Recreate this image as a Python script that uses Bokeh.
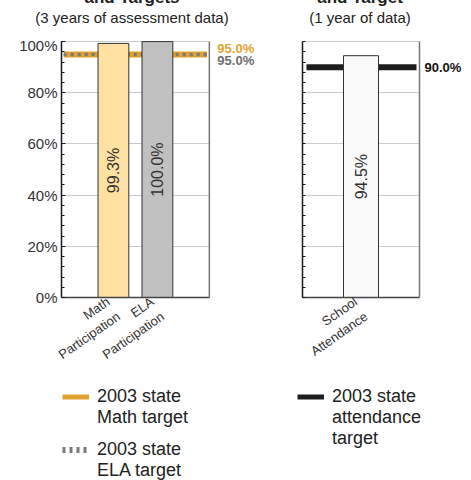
import math
import numpy as np
from bokeh.plotting import figure
from bokeh.layouts import row, column
from bokeh.models import (Range1d, Label, Legend, LegendItem, FixedTicker, PrintfTickFormatter,
                          ColumnDataSource, BoxAnnotation, Div)
from bokeh.core.properties import value
from bokeh.embed import file_html
from bokeh.resources import INLINE

FONT = "Liberation Sans"

# ---- data ----
part_categories = ["Math\nParticipation", "ELA\nParticipation"]
part_values = [99.3, 100.0]
part_colors = ["#FFE2A3", "#C0C0C0"]
math_target = 95.0
ela_target = 95.0
att_categories = ["School\nAttendance"]
att_values = [94.5]
att_colors = ["#F9F9F9"]
att_target = 90.0
y_ticks = [0, 20, 40, 60, 80, 100]
grid_ticks = [20, 40, 60, 80, 100]
left_heading = "and Targets"
right_heading = "and Target"
left_title = "(3 years of assessment data)"
right_title = "(1 year of data)"
math_legend = ["2003 state", "Math target"]
ela_legend = ["2003 state", "ELA target"]
att_legend = ["2003 state", "attendance", "target"]

ORANGE = "#E0A22E"
DASHGRAY = "#7A7A7A"
BLACK = "#1E1E1E"
Y_MAX = 102
FRAME_H = 261
TOP_H = 36
BOTTOM_H = 75
LEG_H = 480 - 2 - TOP_H - FRAME_H - BOTTOM_H


def chart(cats, vals, colors, pad, ppu, frame_w, mbl, show_y):
    n = len(cats)
    pos = [i + 1 for i in range(n)]
    start = 0.5 - pad
    border = n + 0.5 + pad
    end = start + frame_w / ppu
    p = figure(x_range=Range1d(start, end), y_range=Range1d(0, Y_MAX), frame_width=frame_w,
               frame_height=FRAME_H, min_border_left=mbl, min_border_right=0, min_border_top=0,
               min_border_bottom=BOTTOM_H, output_backend="svg", toolbar_location=None)
    p.outline_line_color = None
    p.xgrid.grid_line_color = None
    p.ygrid.ticker = FixedTicker(ticks=grid_ticks)
    p.ygrid.grid_line_color = "#CCCCCC"
    p.ygrid.grid_line_width = 1
    minor = list(range(0, 101, 4))
    p.yaxis.ticker = FixedTicker(ticks=y_ticks if show_y else [], minor_ticks=minor)
    p.yaxis.formatter = PrintfTickFormatter(format="%d%%")
    p.yaxis.bounds = (0, 100)
    p.yaxis.axis_line_color = "#1A1A1A"
    p.yaxis.axis_line_width = 1.5
    p.yaxis.major_tick_in = 4
    p.yaxis.major_tick_out = 0
    p.yaxis.minor_tick_in = 3
    p.yaxis.minor_tick_out = 0
    p.yaxis.major_tick_line_color = "#1A1A1A"
    p.yaxis.minor_tick_line_color = "#1A1A1A"
    p.yaxis.major_label_text_font = FONT
    p.yaxis.major_label_text_font_size = "15px"
    p.yaxis.major_label_text_color = "#333333"
    p.yaxis.major_label_standoff = 4
    p.xaxis.ticker = FixedTicker(ticks=pos)
    p.xaxis.major_label_overrides = {k: c for k, c in zip(pos, cats)}
    p.xaxis.bounds = (start, border)
    p.xaxis.major_label_orientation = 0.61
    p.xaxis.axis_line_color = "#444444"
    p.xaxis.axis_line_width = 1.5
    p.xaxis.major_tick_line_color = None
    p.xaxis.minor_tick_line_color = None
    p.xaxis.major_label_text_font = FONT
    p.xaxis.major_label_text_font_size = "13px"
    p.xaxis.major_label_text_color = "#333333"
    p.xaxis.major_label_standoff = 4
    # white area right of the chart border (label margin)
    p.add_layout(BoxAnnotation(left=border, fill_color="white", fill_alpha=1, line_color=None,
                               level="underlay"))
    return p, pos, start, border


def bars(p, pos, vals, colors):
    src = ColumnDataSource(dict(x=pos, top=vals, color=colors, ly=[v / 2 for v in vals],
                                txt=[f"{v:.1f}%" for v in vals]))
    p.vbar(x="x", top="top", width=0.7, fill_color="color", line_color="#333333", line_width=1,
           source=src)
    p.text(x="x", y="ly", text="txt", angle=math.pi / 2, text_align="center",
           text_baseline="middle", text_font=value(FONT), text_font_size="16px",
           text_color="#333333", source=src)


def border_line(p, border):
    p.segment(x0=[border], y0=[0], x1=[border], y1=[100], line_color="#777777", line_width=1.5)


# ---------- left chart ----------
p1, pos1, s1, b1 = chart(part_categories, part_values, part_colors, 0.68, 44, 201, 61, True)
p1.segment(x0=[s1 + 0.05], y0=[math_target], x1=[b1 - 0.05], y1=[math_target],
           line_color=ORANGE, line_width=6)
p1.segment(x0=[s1 + 0.05], y0=[ela_target], x1=[b1 - 0.05], y1=[ela_target],
           line_color=DASHGRAY, line_width=3.5, line_dash="3 4")
bars(p1, pos1, part_values, part_colors)
border_line(p1, b1)
p1.add_layout(Label(x=b1, y=math_target, x_offset=8, y_offset=6, text=f"{math_target:.1f}%",
                    text_font=FONT, text_font_style="bold", text_font_size="13px",
                    text_color="#E3A531", text_baseline="middle"))
p1.add_layout(Label(x=b1, y=ela_target, x_offset=8, y_offset=-6, text=f"{ela_target:.1f}%",
                    text_font=FONT, text_font_style="bold", text_font_size="13px",
                    text_color="#6E6E6E", text_baseline="middle"))

# ---------- right chart ----------
p2, pos2, s2, b2 = chart(att_categories, att_values, att_colors, 0.67, 50, 167, 40, False)
p2.segment(x0=[s2 + 0.08], y0=[att_target], x1=[b2 - 0.06], y1=[att_target],
           line_color=BLACK, line_width=6)
bars(p2, pos2, att_values, att_colors)
border_line(p2, b2)
p2.add_layout(Label(x=b2, y=att_target, x_offset=5, text=f"{att_target:.1f}%",
                    text_font=FONT, text_font_style="bold", text_font_size="13px",
                    text_color="#111111", text_baseline="middle"))


# ---------- headings ----------
def heading(width, center, head, sub):
    html = (
        f'<div style="position:relative;width:{width}px;height:{TOP_H}px;overflow:hidden;'
        f'font-family:\'{FONT}\';color:#222;">'
        f'<div style="position:absolute;left:{center - 150}px;width:300px;top:-12px;'
        f'text-align:center;font-weight:bold;font-size:17px;line-height:20px;">{head}</div>'
        f'<div style="position:absolute;left:{center - 150}px;width:300px;top:9px;'
        f'text-align:center;font-size:15px;line-height:18px;">{sub}</div></div>'
    )
    return Div(text=html, width=width, height=TOP_H, margin=0, styles={"overflow": "hidden"})


d1 = heading(262, 132, left_heading, left_title)
d2 = heading(207, 98, right_heading, right_title)


# ---------- legends ----------
def legend_fig(width, mbl):
    f = figure(width=width, height=LEG_H, x_range=Range1d(0, 1), y_range=Range1d(0, 1),
               min_border_left=mbl, min_border_top=8, min_border_right=0, min_border_bottom=0,
               x_axis_type=None, y_axis_type=None, toolbar_location=None, output_backend="svg")
    f.outline_line_color = None
    f.grid.visible = False
    return f


def make_legend(location, lines, glyph, blank):
    items = [LegendItem(label=lines[0], renderers=[glyph])]
    items += [LegendItem(label=t, renderers=[blank]) for t in lines[1:]]
    return Legend(items=items, location=location, background_fill_alpha=0,
                  border_line_color=None, padding=0, margin=0, glyph_width=27, glyph_height=21,
                  label_standoff=8, label_text_font=FONT, label_text_font_size="18px",
                  label_text_color="#222222", spacing=0, label_height=21)


EMPTY = np.array([np.nan])
q1 = legend_fig(262, 62)
g_math = q1.line(x=EMPTY, y=EMPTY, line_color=ORANGE, line_width=5)
g_ela = q1.line(x=EMPTY, y=EMPTY, line_color=DASHGRAY, line_width=6, line_dash="3 4")
g_blank1 = q1.line(x=EMPTY, y=EMPTY, line_alpha=0)
q1.add_layout(make_legend("top_left", math_legend, g_math, g_blank1))
q1.add_layout(make_legend((0, 3), ela_legend, g_ela, g_blank1))

q2 = legend_fig(207, 35)
g_att = q2.line(x=EMPTY, y=EMPTY, line_color=BLACK, line_width=5)
g_blank2 = q2.line(x=EMPTY, y=EMPTY, line_alpha=0)
q2.add_layout(make_legend("top_left", att_legend, g_att, g_blank2))

layout = column(row(d1, d2), row(p1, p2), row(q1, q2))
open("out.html", "w").write(file_html(layout, INLINE))
